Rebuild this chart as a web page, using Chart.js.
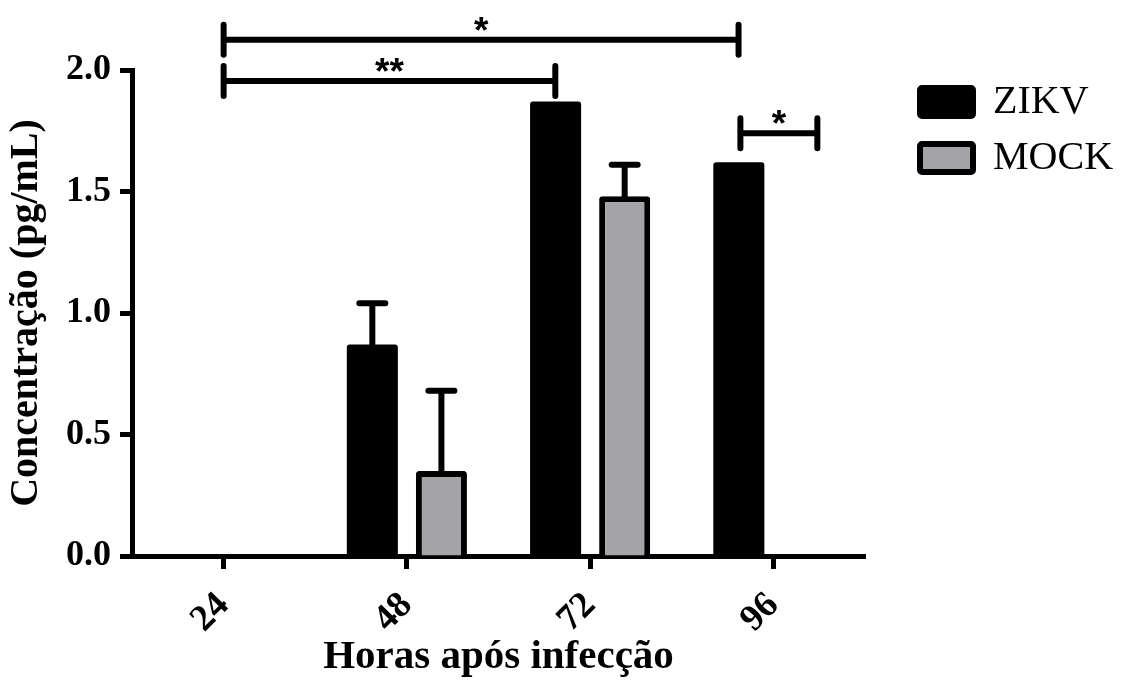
<!DOCTYPE html>
<html><head><meta charset="utf-8">
<script src="https://cdn.jsdelivr.net/npm/chart.js@4.4.0/dist/chart.umd.min.js"></script>
<style>html,body{margin:0;padding:0;background:#fff;}</style>
</head><body>
<canvas id="c" width="1129" height="684"></canvas>
<script>
// ---- data ----
const categories = ['24', '48', '72', '96'];
const zikvValues = [0, 0.87, 1.87, 1.62];
const zikvErrors = [0, 0.17, 0, 0];
const mockValues = [0, 0.35, 1.48, 0];
const mockErrors = [0, 0.33, 0.13, 0];
const yTickValues = [0, 0.5, 1.0, 1.5, 2.0];
// significance brackets (x in category index units, y in data units)
const sigLabels = ['*', '**', '*'];
const sigFrom = [0, 0, 2.82];
const sigTo = [2.81, 1.81, 3.24];
const sigLevel = [2.125, 1.955, 1.74];

const SERIF = 'Liberation Serif';

const errorBarPlugin = {
  id: 'errorBars',
  afterDatasetsDraw(chart) {
    const ctx = chart.ctx, y = chart.scales.y;
    chart.data.datasets.forEach((ds, i) => {
      const meta = chart.getDatasetMeta(i);
      ds.errors.forEach((e, j) => {
        if (!e) return;
        const x = meta.data[j].x;
        const y0 = y.getPixelForValue(ds.data[j]);
        const y1 = y.getPixelForValue(ds.data[j] + e);
        ctx.save();
        ctx.strokeStyle = '#000';
        ctx.lineWidth = 6;
        ctx.lineCap = 'round';
        ctx.beginPath();
        ctx.moveTo(x, y0); ctx.lineTo(x, y1);
        ctx.moveTo(x - 13, y1); ctx.lineTo(x + 13, y1);
        ctx.stroke();
        ctx.restore();
      });
    });
  }
};

const bracketPlugin = {
  id: 'brackets',
  afterDraw(chart) {
    const ctx = chart.ctx, xs = chart.scales.x, ys = chart.scales.y;
    sigLabels.forEach((lab, k) => {
      const x0 = xs.getPixelForValue(sigFrom[k]);
      const x1 = xs.getPixelForValue(sigTo[k]);
      const yy = ys.getPixelForValue(sigLevel[k]);
      ctx.save();
      ctx.strokeStyle = '#000';
      ctx.lineWidth = 6;
      ctx.lineCap = 'round';
      ctx.beginPath();
      ctx.moveTo(x0, yy); ctx.lineTo(x1, yy);
      ctx.moveTo(x0, yy - 15); ctx.lineTo(x0, yy + 15);
      ctx.moveTo(x1, yy - 15); ctx.lineTo(x1, yy + 15);
      ctx.stroke();
      ctx.fillStyle = '#000';
      ctx.font = 'bold 37px "Liberation Sans"';
      ctx.textAlign = 'center';
      ctx.textBaseline = 'alphabetic';
      ctx.fillText(lab, (x0 + x1) / 2, yy + 3);
      ctx.restore();
    });
  }
};

const legendPlace = {
  id: 'legendPlace',
  afterLayout(chart) {
    const l = chart.legend;
    if (!l) return;
    const w = l.width, h = l.height;
    l.left = 904; l.right = 904 + w;
    l.top = 66; l.bottom = 66 + h;
  }
};

new Chart(document.getElementById('c'), {
  type: 'bar',
  data: {
    labels: categories,
    datasets: [
      { label: 'ZIKV', data: zikvValues, errors: zikvErrors,
        backgroundColor: '#000', borderColor: '#000', borderWidth: 0, borderRadius: 3,
        borderSkipped: 'start' },
      { label: 'MOCK', data: mockValues, errors: mockErrors,
        backgroundColor: '#a3a3a8', borderColor: '#000', borderWidth: 6, borderRadius: 3,
        borderSkipped: 'start' }
    ]
  },
  options: {
    responsive: false,
    animation: false,
    devicePixelRatio: 1,
    categoryPercentage: 0.754,
    barPercentage: 0.739,
    layout: { padding: { top: 70, right: 264, bottom: 0, left: 0 } },
    plugins: {
      legend: {
        position: 'chartArea',
        align: 'start',
        labels: {
          font: { family: SERIF, size: 40 },
          color: '#000',
          boxWidth: 53, boxHeight: 28, padding: 16, textAlign: 'left',
          generateLabels(chart) {
            const items = Chart.defaults.plugins.legend.labels.generateLabels(chart);
            items.forEach(it => { it.lineWidth = 6; it.strokeStyle = '#000'; it.borderRadius = 2; });
            return items;
          }
        }
      },
      tooltip: { enabled: false }
    },
    scales: {
      x: {
        offset: true,
        grid: { offset: false, drawOnChartArea: false, drawTicks: true, tickLength: 13, tickWidth: 5, tickColor: '#000' },
        border: { display: true, color: '#000', width: 5 },
        ticks: { color: '#000', font: { family: SERIF, size: 37, weight: 'bold' }, minRotation: 45, maxRotation: 45, padding: 15 },
        title: { display: true, text: 'Horas após infecção', color: '#000',
                 font: { family: SERIF, size: 41, weight: 'bold' }, padding: { top: 0, bottom: 2 } },
        afterFit(s) { s.height = 128; }
      },
      y: {
        min: 0, max: 2,
        afterBuildTicks(s) { s.ticks = yTickValues.map(v => ({ value: v })); },
        grid: { drawOnChartArea: false, drawTicks: true, tickLength: 12, tickWidth: 5, tickColor: '#000' },
        border: { display: true, color: '#000', width: 5 },
        ticks: { color: '#000', font: { family: SERIF, size: 36, weight: 'bold' }, padding: 9,
                 callback: v => Number(v).toFixed(1) },
        title: { display: true, text: 'Concentração (pg/mL)', color: '#000',
                 font: { family: SERIF, size: 40, weight: 'bold' }, padding: { top: 3, bottom: 0 } },
        afterFit(s) { s.width = 132; }
      }
    }
  },
  plugins: [errorBarPlugin, bracketPlugin, legendPlace]
});
</script>
</body></html>
